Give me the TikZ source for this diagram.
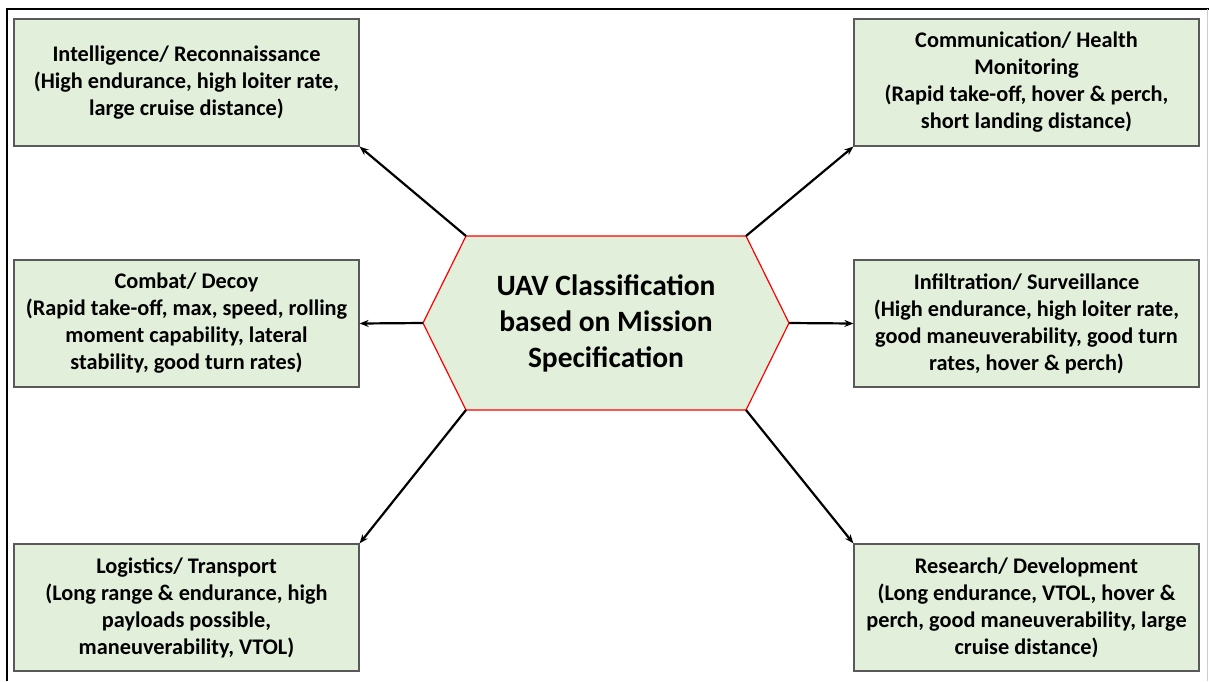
\documentclass[tikz,border=0pt]{standalone}
\usepackage{fontspec}
\setmainfont{Carlito}
\usetikzlibrary{arrows.meta}
\definecolor{boxgreen}{HTML}{E2EFDA}
\definecolor{boxline}{HTML}{595959}
\definecolor{hexline}{HTML}{FF0000}
\tikzset{missionbox/.style={draw=boxline, line width=1.2pt, fill=boxgreen, minimum width=345pt, minimum height=127pt, inner sep=0pt, align=center, font=\fontsize{22.3}{27}\selectfont\bfseries} }
\tikzset{classarrow/.style={-{Stealth[length=9pt,width=7pt]}, line width=2.2pt} }

\begin{document}
\begin{tikzpicture}[x=1pt,y=-1pt]
            \useasboundingbox (0,0) rectangle (1209,681);
            \fill [white] (0,0) rectangle (1209,681);
            \draw [line width=2.6pt] (7,681)--(7,9)--(1209,9);
            \draw [gray!40, line width=0.8pt] (1207,9)--(1207,681);
            % hexagon in the middle
            \coordinate (hnw) at (466,236);
            \coordinate (hne) at (746,236);
            \coordinate (he) at (789,323);
            \coordinate (hse) at (746,410);
            \coordinate (hsw) at (466,410);
            \coordinate (hw) at (423,323);
            \draw [hexline, fill=boxgreen, line width=1.2pt] (hnw)--(hne)--(he)--(hse)--(hsw)--(hw)--cycle;
            \node [align=center, font=\fontsize{29.5}{36}\selectfont\bfseries] (uav) at (606,323) {UAV Classification\\based on Mission\\Specification};
            % mission boxes
            \node [missionbox] (intel) at (186.5,82.5) {Intelligence/ Reconnaissance\\(High endurance, high loiter rate,\\large cruise distance)};
            \node [missionbox] (combat) at (186.5,323.5) {Combat/ Decoy\\(Rapid take-off, max, speed, rolling\\moment capability, lateral\\stability, good turn rates)};
            \node [missionbox] (logis) at (186.5,607.5) {Logistics/ Transport\\(Long range \& endurance, high\\payloads possible,\\maneuverability, VTOL)};
            \node [missionbox] (comm) at (1026.5,82.5) {Communication/ Health\\Monitoring\\(Rapid take-off, hover \& perch,\\short landing distance)};
            \node [missionbox] (infil) at (1026.5,323.5) {Infiltration/ Surveillance\\(High endurance, high loiter rate,\\good maneuverability, good turn\\rates, hover \& perch)};
            \node [missionbox] (resea) at (1026.5,607.5) {Research/ Development\\(Long endurance, VTOL, hover \&\\perch, good maneuverability, large\\cruise distance)};
            % arrows
            \draw [classarrow] (hnw)--(intel.south east);
            \draw [classarrow] (hw)--(combat.east);
            \draw [classarrow] (hsw)--(logis.north east);
            \draw [classarrow] (hne)--(comm.south west);
            \draw [classarrow] (he)--(infil.west);
            \draw [classarrow] (hse)--(resea.north west);
        \end{tikzpicture}
\end{document}
